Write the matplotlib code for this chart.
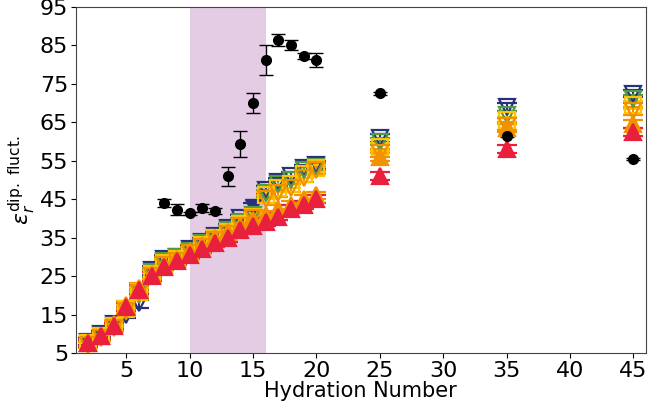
import numpy as np
import matplotlib.pyplot as plt

hyd = [2, 3, 4, 5, 6, 7, 8, 9, 10, 11, 12, 13, 14, 15, 16, 17, 18, 19, 20, 25, 35, 45]

navy_y = [8.0, 10.0, 12.5, 15.0, 18.0, 26.5, 29.5, 30.0, 32.0, 34.0, 35.5, 37.5, 40.0, 43.0,
          47.5, 49.5, 51.0, 53.0, 54.0, 61.0, 69.0, 72.5]
green_y = [7.5, 9.5, 12.0, 16.0, 20.0, 26.0, 29.0, 30.0, 31.5, 33.5, 35.0, 37.0, 39.0, 41.0,
           46.5, 49.0, 50.0, 52.5, 53.5, 60.0, 67.0, 71.0]
gold_y = [7.5, 9.5, 12.0, 16.5, 21.0, 25.5, 28.5, 29.5, 31.0, 33.0, 35.0, 36.5, 38.5, 40.5,
          46.0, 48.0, 49.0, 51.5, 53.0, 58.5, 65.5, 69.5]
dorange_y = [7.0, 9.0, 11.5, 16.0, 20.5, 25.0, 28.0, 29.0, 31.0, 32.5, 34.5, 36.0, 38.0, 40.0,
             45.0, 46.5, 48.0, 50.5, 52.5, 57.0, 64.0, 68.0]
orange_y = [7.5, 9.5, 12.5, 17.5, 22.0, 25.5, 28.0, 29.5, 31.5, 33.0, 35.0, 36.5, 38.0, 39.5,
            41.0, 42.5, 43.5, 45.0, 46.0, 56.0, 63.5, 64.5]
red_y = [7.5, 9.5, 12.0, 17.0, 21.5, 25.0, 27.5, 29.0, 30.5, 32.0, 33.5, 35.0, 37.0, 38.0,
         39.0, 40.5, 42.5, 43.5, 45.0, 51.0, 58.0, 62.5]
sim_err = [0.8, 0.8, 0.8, 1.0, 1.2, 1.2, 1.0, 1.0, 1.0, 1.0, 1.0, 1.0, 1.0, 1.0,
           1.0, 1.0, 1.0, 1.0, 1.0, 1.0, 1.0, 1.0]

# navy marker drawn filled at these hydration numbers
navy_filled_at = [15]

exp_x = [8, 9, 10, 11, 12, 13, 14, 15, 16, 17, 18, 19, 20, 25, 35, 45]
exp_y = [44.0, 42.3, 41.4, 42.7, 41.9, 51.0, 59.4, 70.0, 81.1, 86.5, 85.1, 82.3, 81.3, 72.6, 61.4, 55.5]
exp_err = [1.0, 1.5, 0.4, 1.0, 0.7, 2.5, 3.3, 2.6, 3.9, 1.6, 1.2, 0.8, 1.8, 0.4, 0.3, 0.3]

fig = plt.figure(figsize=(6.7, 4.11), dpi=100)
ax = fig.add_axes([0.113, 0.141, 0.851, 0.842])

ax.axvspan(10, 16, color='purple', alpha=0.2, lw=0)

hyd = np.array(hyd)
series = [
    (navy_y, '#28307a', 'v', 'none'),
    (green_y, '#4f9a45', 'v', 'none'),
    (gold_y, '#ffc400', 's', 'none'),
    (dorange_y, '#f29000', 'v', 'none'),
    (orange_y, '#f39200', '^', 'full'),
    (red_y, '#e8203e', '^', 'full'),
]
for yv, col, mk, fill in series:
    yv = np.array(yv)
    if col == '#28307a':
        solid = np.isin(hyd, navy_filled_at)
        ax.errorbar(hyd[~solid], yv[~solid], yerr=np.array(sim_err)[~solid], fmt=mk,
                    color=col, mfc='none', mew=1.6, ms=11, capsize=7, elinewidth=1.5, capthick=1.6)
        ax.errorbar(hyd[solid], yv[solid], yerr=np.array(sim_err)[solid], fmt=mk,
                    color=col, ms=11, capsize=7, elinewidth=1.5, capthick=1.6)
        continue
    ax.errorbar(hyd, yv, yerr=sim_err, fmt=mk, color=col,
                mfc='none' if fill == 'none' else col, mew=1.6, ms=11,
                capsize=7, elinewidth=1.5, capthick=1.6)

ax.errorbar(exp_x, exp_y, yerr=exp_err, fmt='o', color='black', ms=7,
            capsize=5, elinewidth=1.0, capthick=1.0)

ax.set_xlim(1.0, 46.0)
ax.set_ylim(5, 95)
ax.set_xticks(np.arange(5, 46, 5))
ax.set_yticks(np.arange(5, 96, 10))
ax.tick_params(labelsize=16, pad=2)
ax.set_xlabel('Hydration Number', fontsize=15, labelpad=0)
ax.set_ylabel(r'$\epsilon_r^{\mathrm{dip.\ fluct.}}$', fontsize=16, labelpad=1)
for s in ax.spines.values():
    s.set_color('#444444')

fig.savefig('out.png', dpi=100)
